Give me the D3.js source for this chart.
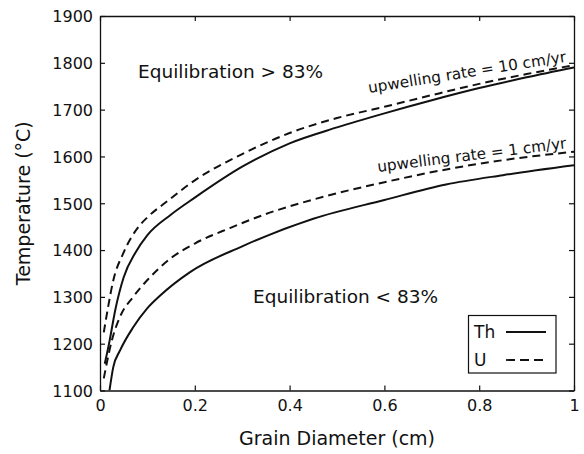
<!DOCTYPE html>
<html>
<head>
<meta charset="utf-8">
<script src="https://cdn.jsdelivr.net/npm/d3@7"></script>
<style>
  html, body { margin: 0; padding: 0; background: #fff; }
  text { font-family: "DejaVu Sans", "Liberation Sans", Arial, sans-serif; fill: #111; }
</style>
</head>
<body>
<svg id="chart" width="584" height="454"></svg>
<script>
// Grain diameter (cm) and closure temperature (°C) for each curve
const thFastD = [0.01, 0.02, 0.032, 0.05, 0.075, 0.1, 0.15, 0.2, 0.3, 0.4, 0.5, 0.6, 0.7, 0.8, 0.9, 1.0];
const thFastT = [1157, 1205, 1271, 1342, 1395, 1432, 1476, 1512, 1578, 1628, 1662, 1692, 1720, 1746, 1769, 1790];

const uFastD = [0.008, 0.017, 0.028, 0.049, 0.084, 0.1, 0.144, 0.2, 0.3, 0.4, 0.5, 0.6, 0.7, 0.8, 0.9, 1.0];
const uFastT = [1224, 1278, 1335, 1393, 1453, 1470, 1506, 1549, 1605, 1650, 1682, 1706, 1731, 1755, 1776, 1795];

const thSlowD = [0.02, 0.028, 0.042, 0.07, 0.1, 0.127, 0.19, 0.3, 0.45, 0.6, 0.73, 0.85, 1.0];
const thSlowT = [1100, 1150, 1185, 1235, 1276, 1303, 1353, 1408, 1467, 1507, 1540, 1560, 1581];

const uSlowD = [0.008, 0.014, 0.025, 0.042, 0.07, 0.1, 0.15, 0.2, 0.274, 0.35, 0.45, 0.6, 0.74, 0.85, 1.0];
const uSlowT = [1126, 1157, 1207, 1257, 1300, 1336, 1383, 1414, 1447, 1477, 1508, 1545, 1574, 1592, 1610];

const xTicks = [0, 0.2, 0.4, 0.6, 0.8, 1];
const yTicks = [1100, 1200, 1300, 1400, 1500, 1600, 1700, 1800, 1900];

const svg = d3.select("#chart");
const plotLeft = 100, plotRight = 574, plotTop = 16, plotBottom = 390.5;

const x = d3.scaleLinear().domain([0, 1]).range([plotLeft, plotRight]);
const y = d3.scaleLinear().domain([1100, 1900]).range([plotBottom, plotTop]);

// Axes: ticks point inward on all four sides
function styleAxis(g) {
  g.selectAll("path.domain").attr("stroke", "#111").attr("stroke-width", 1.3);
  g.selectAll(".tick line").attr("stroke", "#111").attr("stroke-width", 1.2);
  g.selectAll(".tick text").style("font-size", "16px").attr("fill", "#111");
}

svg.append("g").attr("transform", `translate(0,${plotBottom})`)
  .call(d3.axisBottom(x).tickValues(xTicks).tickFormat(d3.format("~g"))
        .tickSizeInner(-5).tickSizeOuter(0).tickPadding(9))
  .call(styleAxis);

svg.append("g").attr("transform", `translate(0,${plotTop})`)
  .call(d3.axisTop(x).tickValues(xTicks).tickFormat("")
        .tickSizeInner(-5).tickSizeOuter(0))
  .call(styleAxis);

svg.append("g").attr("transform", `translate(${plotLeft},0)`)
  .call(d3.axisLeft(y).tickValues(yTicks).tickFormat(d3.format("d"))
        .tickSizeInner(-5).tickSizeOuter(0).tickPadding(7))
  .call(styleAxis)
  .selectAll(".tick text").attr("dy", "0.36em");

svg.append("g").attr("transform", `translate(${plotRight},0)`)
  .call(d3.axisRight(y).tickValues(yTicks).tickFormat("")
        .tickSizeInner(-5).tickSizeOuter(0))
  .call(styleAxis);

// Axis titles
svg.append("text")
  .attr("x", (plotLeft + plotRight) / 2).attr("y", 445)
  .attr("text-anchor", "middle").style("font-size", "19px")
  .text("Grain Diameter (cm)");

svg.append("text")
  .attr("transform", `translate(29.5,${(plotTop + plotBottom) / 2}) rotate(-90)`)
  .attr("text-anchor", "middle").style("font-size", "19px")
  .text("Temperature (°C)");

// Curves
const line = d3.line()
  .x(d => x(d[0])).y(d => y(d[1]))
  .curve(d3.curveMonotoneX);

const curves = [
  { d: thFastD, t: thFastT, dash: null },
  { d: uFastD,  t: uFastT,  dash: "8,5" },
  { d: thSlowD, t: thSlowT, dash: null },
  { d: uSlowD,  t: uSlowT,  dash: "8,5" }
];

svg.append("clipPath").attr("id", "plotClip")
  .append("rect").attr("x", plotLeft).attr("y", plotTop)
  .attr("width", plotRight - plotLeft).attr("height", plotBottom - plotTop);

const plot = svg.append("g").attr("clip-path", "url(#plotClip)");
curves.forEach(c => {
  plot.append("path")
    .datum(d3.zip(c.d, c.t))
    .attr("d", line)
    .attr("fill", "none")
    .attr("stroke", "#111")
    .attr("stroke-width", 2)
    .attr("stroke-dasharray", c.dash);
});

// Region and curve labels
svg.append("text").attr("x", 138).attr("y", 78)
  .style("font-size", "18.5px").text("Equilibration > 83%");
svg.append("text").attr("x", 253).attr("y", 303)
  .style("font-size", "18.5px").text("Equilibration < 83%");

svg.append("text")
  .attr("transform", "translate(369,93) rotate(-9)")
  .style("font-size", "15.3px").text("upwelling rate = 10 cm/yr");
svg.append("text")
  .attr("transform", "translate(378,172) rotate(-7.2)")
  .style("font-size", "15.3px").text("upwelling rate = 1 cm/yr");

// Legend
const legend = svg.append("g");
legend.append("rect")
  .attr("x", 468.5).attr("y", 315.5).attr("width", 87.5).attr("height", 57.5)
  .attr("fill", "#fff").attr("stroke", "#111").attr("stroke-width", 1.2);
const legendItems = [
  { label: "Th", dash: null, yy: 332 },
  { label: "U",  dash: "9,5", yy: 360 }
];
legendItems.forEach(it => {
  legend.append("text").attr("x", 474).attr("y", it.yy + 6)
    .style("font-size", "17px").text(it.label);
  legend.append("line")
    .attr("x1", 506).attr("x2", 546).attr("y1", it.yy).attr("y2", it.yy)
    .attr("stroke", "#111").attr("stroke-width", 1.8)
    .attr("stroke-dasharray", it.dash);
});
</script>
</body>
</html>
